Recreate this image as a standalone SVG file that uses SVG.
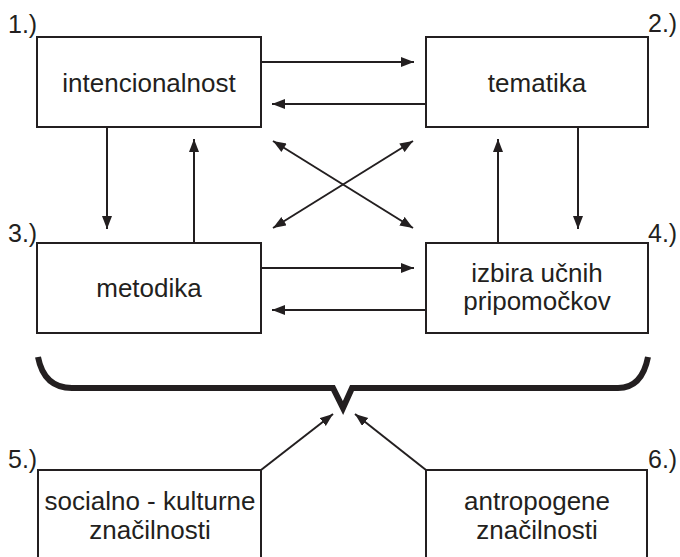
<svg xmlns="http://www.w3.org/2000/svg" width="680" height="557" viewBox="0 0 680 557">
<defs>
<style>
.box{fill:#fff;stroke:#231f20;stroke-width:2}
.t{font-family:"Liberation Sans",Arial,sans-serif;font-size:26px;fill:#231f20;text-anchor:middle}
.n{font-family:"Liberation Sans",Arial,sans-serif;font-size:25px;fill:#231f20}
.c{stroke:#231f20;stroke-width:2;fill:none}
.a{marker-end:url(#ah)}
.d{marker-start:url(#ahs);marker-end:url(#ah)}
</style>
<marker id="ah" markerUnits="userSpaceOnUse" markerWidth="14" markerHeight="12" refX="13" refY="5" orient="auto">
<path d="M0,0 L13,5 L0,10 Z" fill="#231f20"/>
</marker>
<marker id="ahs" markerUnits="userSpaceOnUse" markerWidth="14" markerHeight="12" refX="0" refY="5" orient="auto">
<path d="M13,0 L0,5 L13,10 Z" fill="#231f20"/>
</marker>
</defs>
<rect width="680" height="557" fill="#fff"/>
<g id="connectors">
<line class="c a" x1="261" y1="62" x2="414" y2="62"/>
<line class="c a" x1="426" y1="104" x2="272" y2="104"/>
<line class="c a" x1="107" y1="127" x2="107" y2="229"/>
<line class="c a" x1="194" y1="243" x2="194" y2="139"/>
<line class="c a" x1="498" y1="243" x2="498" y2="139"/>
<line class="c a" x1="578" y1="127" x2="578" y2="229"/>
<line class="c d" x1="273" y1="141" x2="413" y2="228"/>
<line class="c d" x1="413" y1="141" x2="273" y2="228"/>
<line class="c a" x1="261" y1="268" x2="414" y2="268"/>
<line class="c a" x1="426" y1="310" x2="272" y2="310"/>
<line class="c a" x1="261" y1="470" x2="333" y2="414"/>
<line class="c a" x1="426" y1="470" x2="355" y2="414"/>
<path d="M38,357 Q44,388 72,388 L333,388 L343,408 L352,388 L618,388 Q642,388 648,357" fill="none" stroke="#231f20" stroke-width="6" stroke-linejoin="miter"/>
</g>
<g id="node1">
<rect class="box" x="37" y="37" width="224" height="90"/>
<text class="t" x="149" y="92">intencionalnost</text>
<text class="n" x="8" y="33">1.)</text>
</g>
<g id="node2">
<rect class="box" x="426" y="37" width="222" height="90"/>
<text class="t" x="537" y="92">tematika</text>
<text class="n" x="648" y="32">2.)</text>
</g>
<g id="node3">
<rect class="box" x="37" y="243" width="224" height="90"/>
<text class="t" x="149" y="297">metodika</text>
<text class="n" x="8" y="242">3.)</text>
</g>
<g id="node4">
<rect class="box" x="426" y="243" width="222" height="90"/>
<text class="t" x="537" y="282">izbira učnih</text>
<text class="t" x="537" y="310">pripomočkov</text>
<text class="n" x="648" y="242">4.)</text>
</g>
<g id="node5">
<rect class="box" x="38" y="470" width="223" height="100"/>
<text class="t" x="150" y="510">socialno - kulturne</text>
<text class="t" x="150" y="539">značilnosti</text>
<text class="n" x="8" y="468">5.)</text>
</g>
<g id="node6">
<rect class="box" x="426" y="470" width="221" height="100"/>
<text class="t" x="537" y="510">antropogene</text>
<text class="t" x="537" y="539">značilnosti</text>
<text class="n" x="648" y="468">6.)</text>
</g>
</svg>
